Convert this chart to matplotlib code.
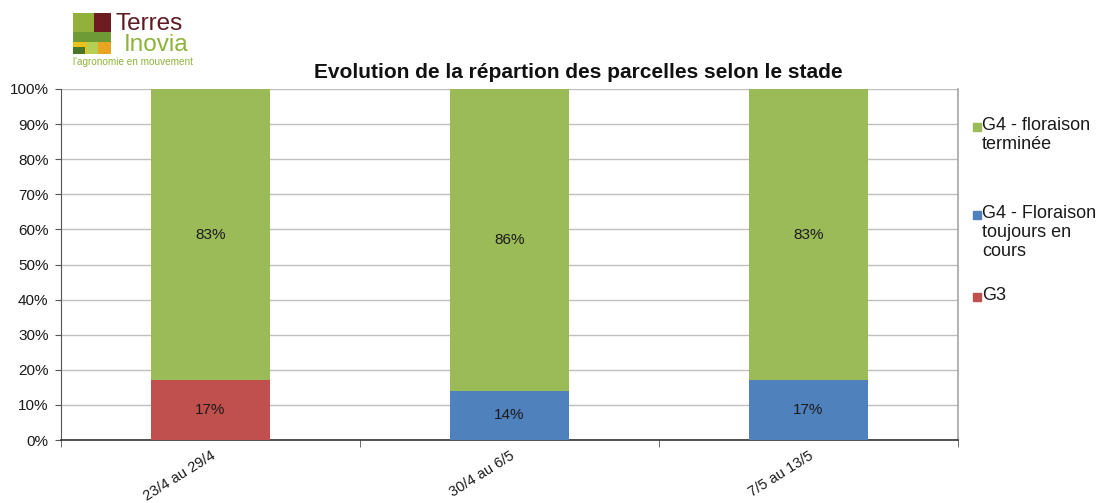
import matplotlib
matplotlib.use("Agg")
import matplotlib.pyplot as plt
from matplotlib.patches import Rectangle
import numpy as np

plt.rcParams['font.family'] = ['Liberation Sans', 'DejaVu Sans']

categories = ["23/4 au 29/4", "30/4 au 6/5", "7/5 au 13/5"]
g3 = [17, 0, 0]
g4_en_cours = [0, 14, 17]
g4_terminee = [83, 86, 83]
series_names = ["G4 - floraison\nterminée", "G4 - Floraison\ntoujours en\ncours", "G3"]
yticks = list(range(0, 101, 10))

c_green = "#9BBB59"
c_blue = "#4F81BD"
c_red = "#C0504D"

W, H = 1099, 503
fig = plt.figure(figsize=(W / 100, H / 100), dpi=100)
ax = fig.add_axes([61 / W, 1 - 440 / H, (958 - 61) / W, (440 - 89) / H])

x = np.arange(len(categories))
bw = 0.4
b1 = ax.bar(x, g3, bw, color=c_red, zorder=3)
b2 = ax.bar(x, g4_en_cours, bw, bottom=g3, color=c_blue, zorder=3)
bottom3 = [a + b for a, b in zip(g3, g4_en_cours)]
b3 = ax.bar(x, g4_terminee, bw, bottom=bottom3, color=c_green, zorder=3)

for vals, bots in [(g3, [0, 0, 0]), (g4_en_cours, g3), (g4_terminee, bottom3)]:
    for xi, v, b in zip(x, vals, bots):
        if v > 0:
            ax.text(xi, b + v / 2, f"{v}%", ha="center", va="center", fontsize=11, color="#1a1a1a", zorder=4)

ax.set_xlim(-0.5, len(categories) - 0.5)
ax.set_ylim(0, 100)
ax.set_yticks(yticks)
ax.set_yticklabels([f"{t}%" for t in yticks], fontsize=11, color="#1a1a1a")
ax.yaxis.grid(True, color="#BFBFBF", linewidth=1, zorder=0)
ax.set_axisbelow(True)

ax.set_xticks(x)
ax.set_xticklabels(categories, rotation=32, ha="right", rotation_mode="anchor", fontsize=10.5, color="#1a1a1a")
ax.tick_params(axis="x", which="major", length=0, pad=6)
ax.set_xticks(np.arange(-0.5, len(categories), 1.0), minor=True)
ax.tick_params(axis="x", which="minor", length=5, direction="out", color="#555555")
ax.tick_params(axis="y", length=4, direction="out", color="#555555", pad=5)

ax.spines["top"].set_visible(False)
ax.spines["right"].set_color("#A6A6A6")
ax.spines["right"].set_linewidth(1.2)
ax.spines["left"].set_color("#555555")
ax.spines["bottom"].set_color("#333333")
ax.spines["bottom"].set_linewidth(1.2)

fig.text(578 / W, 1 - 72 / H, "Evolution de la répartion des parcelles selon le stade",
         ha="center", va="center", fontsize=15, fontweight="bold", color="#111111")

# Legend (manual)
leg_items = [(series_names[0], c_green, 127), (series_names[1], c_blue, 215), (series_names[2], c_red, 297)]
for label, col, yc in leg_items:
    fig.patches.append(Rectangle((973 / W, 1 - (yc + 4) / H), 8 / W, 8 / H,
                                 transform=fig.transFigure, color=col))
    fig.text(982 / W, 1 - (yc - 10) / H, label, ha="left", va="top", fontsize=13,
             color="#1a1a1a", linespacing=1.15)

# Logo
logo_blocks = [
    (73, 13, 21, 19, "#93B13A"), (94, 13, 17, 19, "#6E1C22"),
    (73, 32, 38, 10, "#6E9B36"),
    (73, 42, 14, 12, "#E9C21E"), (87, 42, 11, 12, "#B5CF55"), (98, 42, 13, 12, "#E9A422"),
    (73, 47, 12, 7, "#4A7426"),
]
for bx, by, bwid, bh, col in logo_blocks:
    fig.patches.append(Rectangle((bx / W, 1 - (by + bh) / H), bwid / W, bh / H,
                                 transform=fig.transFigure, color=col, linewidth=0))
fig.text(115 / W, 1 - 24 / H, "Terres", ha="left", va="center", fontsize=17.5, color="#5E1B22")
fig.text(124 / W, 1 - 45 / H, "Inovia", ha="left", va="center", fontsize=17.5, color="#8DB33A")
fig.text(73 / W, 1 - 62 / H, "l'agronomie en mouvement", ha="left", va="center", fontsize=7.2, color="#8DB33A")

fig.savefig("out.png", dpi=100)
